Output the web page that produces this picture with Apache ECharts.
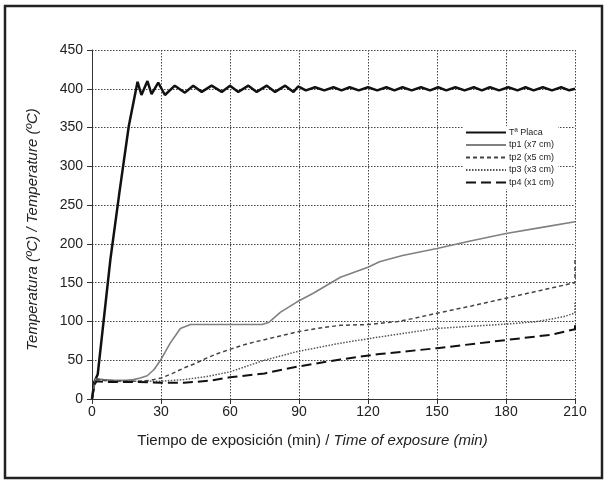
<!DOCTYPE html>
<html>
<head>
<meta charset="utf-8">
<script src="https://cdn.jsdelivr.net/npm/echarts@6/dist/echarts.min.js"></script>
<style>
  html, body { margin: 0; padding: 0; background: #fff; }
  #chart { width: 607px; height: 482px; }
</style>
</head>
<body>
<div id="chart"></div>
<script>
// x ticks
const xTicks = [0, 30, 60, 90, 120, 150, 180, 210]

// Tª Placa
const placaTime = [0, 1, 2.5, 8, 12, 16, 19.8, 21.5, 24.1, 25.9, 28.8, 31.7, 36, 40.4, 44, 47.7, 52, 56.4, 60, 63.6, 68, 71.6, 76, 79.6, 84, 87.6, 89.6,
  93, 97, 101, 105, 108.5, 112, 116, 120, 124, 128, 131.5, 135, 139, 143, 147, 150.5, 154, 158, 162, 166, 169.5, 173, 177, 181, 185, 188.5, 192, 196, 200, 204, 207.5, 210]
const placaTemp = [0, 22, 32, 180, 268, 352, 409, 392, 410, 393, 408, 392, 404, 395, 404, 396, 404, 396, 404, 396, 404, 396, 404, 396, 404, 396, 403,
  398, 402, 398, 402, 398, 402, 398, 402, 398, 402, 398, 402, 398, 402, 398, 402, 398, 402, 398, 402, 398, 402, 398, 402, 398, 402, 398, 402, 398, 402, 398, 400]

// tp1 (x7 cm)
const tp1Time = [0, 1.5, 5, 10, 15, 18, 21, 24, 27, 30, 34, 38.4, 42.8, 50, 60, 70, 74, 77, 82, 89, 96, 108, 120, 125, 135, 150, 165, 180, 195, 210]
const tp1Temp = [0, 26, 25, 24, 24, 25, 27, 30, 38, 51, 72, 91, 96, 96, 96, 96, 96, 99, 112, 125, 136, 157, 170, 177, 185, 194, 204, 213.5, 221, 228.5]

// tp2 (x5 cm)
const tp2Time = [0, 1.5, 5, 10, 20, 25, 30, 35, 40, 45, 50, 55, 60, 65, 70, 80, 90, 100, 108, 120, 133, 140, 150, 165, 180, 195, 210, 210]
const tp2Temp = [0, 26, 24, 23, 23, 24, 27, 33, 40, 46, 53, 59, 64, 69, 73, 80, 87, 92, 95, 96, 100, 104, 110.6, 120, 130, 140, 150, 181]

// tp3 (x3 cm)
const tp3Time = [0, 1.5, 5, 10, 20, 30, 40, 50, 60, 75, 89, 108, 125, 150, 180, 193, 205, 210, 210]
const tp3Temp = [0, 26, 24, 23, 23, 23, 25, 29, 35, 50, 61, 72, 80, 91, 96.6, 99.6, 106, 111, 124]

// tp4 (x1 cm)
const tp4Time = [0, 1, 2, 5, 10, 20, 30, 40, 45, 52, 60, 75, 89, 108, 125, 150, 180, 200, 210, 210]
const tp4Temp = [0, 18, 23, 22, 22, 22, 21, 21, 22, 24, 28, 33, 41.6, 51, 58, 65.5, 76, 83, 90, 102]

const pairs = (t, v) => t.map((x, i) => [x, v[i]])

const font = 'Liberation Sans, Arial, sans-serif'
const gridLine = { show: true, lineStyle: { color: '#444', type: [1.5, 1.5], width: 1 } }
const axisLine = { show: true, lineStyle: { color: '#333', width: 1 } }

const chart = echarts.init(document.getElementById('chart'))

const line = (name, data, color, width, type) => ({
  name,
  type: 'line',
  data,
  symbol: 'none',
  smooth: false,
  lineStyle: { color, width, type },
  itemStyle: { color },
  z: 3
})

chart.setOption({
  animation: false,
  backgroundColor: '#fff',
  textStyle: { fontFamily: font },
  grid: { left: 92, right: 32, top: 50, bottom: 83 },
  graphic: [{
    type: 'rect',
    shape: { x: 5, y: 6, width: 597, height: 472 },
    style: { fill: 'none', stroke: '#222', lineWidth: 2.5 },
    silent: true
  }],
  legend: {
    orient: 'vertical',
    left: 463,
    top: 126,
    itemWidth: 40,
    itemHeight: 9,
    itemGap: 3.5,
    backgroundColor: '#fff',
    padding: [2, 4, 2, 2],
    itemStyle: { color: 'transparent', borderColor: 'transparent', borderWidth: 0, opacity: 0 },
    textStyle: { fontSize: 9, color: '#222', fontFamily: font, padding: [0, 0, 0, -2] },
    data: ['Tª Placa', 'tp1 (x7 cm)', 'tp2 (x5 cm)', 'tp3 (x3 cm)', 'tp4 (x1 cm)']
  },
  xAxis: {
    type: 'value',
    min: 0,
    max: 210,
    interval: 30,
    name: '{n|Tiempo de exposición (min) / }{i|Time of exposure (min)}',
    nameLocation: 'middle',
    nameGap: 34,
    nameTextStyle: {
      padding: [0, 42, 0, 0],
      rich: {
        n: { fontSize: 15, color: '#222', fontFamily: font },
        i: { fontSize: 15, color: '#222', fontFamily: font, fontStyle: 'italic' }
      }
    },
    axisLine,
    axisTick: { show: true, length: 5, lineStyle: { color: '#333' } },
    axisLabel: { fontSize: 14, color: '#222', margin: 6, formatter: v => xTicks.includes(v) ? v : '' },
    splitLine: gridLine
  },
  yAxis: {
    type: 'value',
    min: 0,
    max: 450,
    interval: 50,
    name: 'Temperatura (ºC) / Temperature (ºC)',
    nameLocation: 'middle',
    nameGap: 52,
    nameTextStyle: { fontSize: 15, color: '#222', fontStyle: 'italic', fontFamily: font, padding: [0, 10, 0, 0] },
    axisLine,
    axisTick: { show: true, length: 5, lineStyle: { color: '#333' } },
    axisLabel: { fontSize: 14, color: '#222', margin: 9 },
    splitLine: gridLine
  },
  series: [
    line('Tª Placa', pairs(placaTime, placaTemp), '#111', 2.5, 'solid'),
    line('tp1 (x7 cm)', pairs(tp1Time, tp1Temp), '#808080', 1.6, 'solid'),
    line('tp2 (x5 cm)', pairs(tp2Time, tp2Temp), '#444', 1.5, [4, 3]),
    line('tp3 (x3 cm)', pairs(tp3Time, tp3Temp), '#555', 1.5, [1.5, 1.5]),
    line('tp4 (x1 cm)', pairs(tp4Time, tp4Temp), '#111', 2, [10, 5])
  ]
})
</script>
</body>
</html>
